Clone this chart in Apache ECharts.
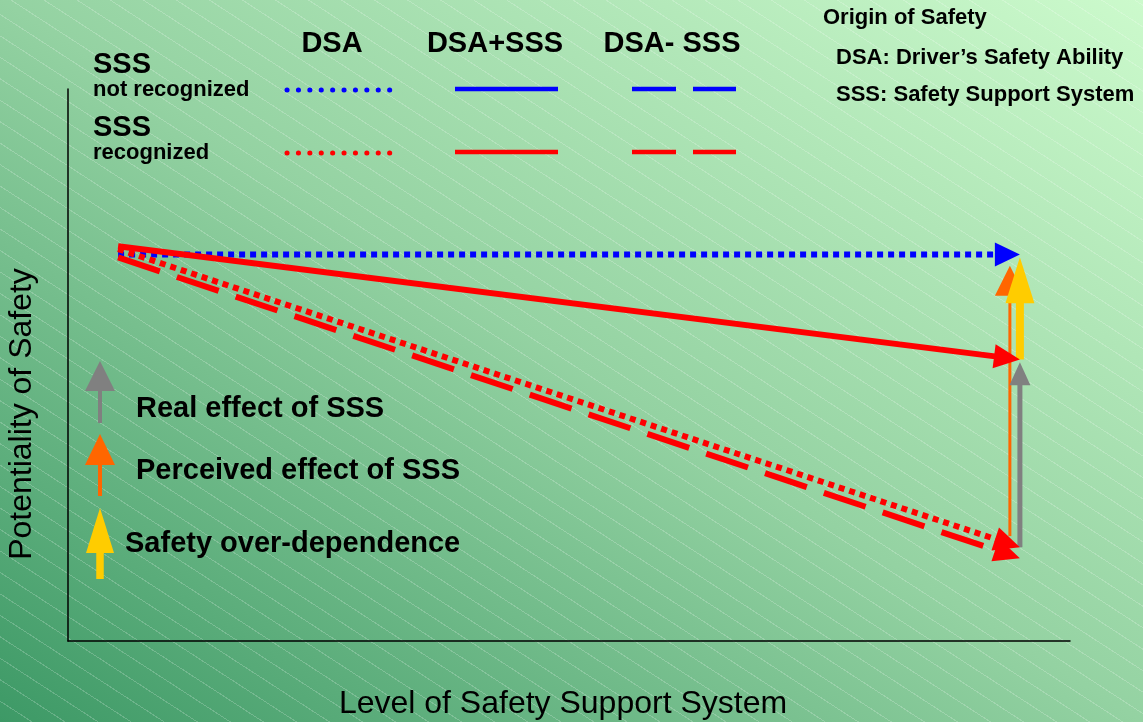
<!DOCTYPE html>
<html>
<head>
<meta charset="utf-8">
<script src="https://cdn.jsdelivr.net/npm/echarts@6/dist/echarts.min.js"></script>
<style>
  html, body { margin: 0; padding: 0; }
  #chart {
    width: 1143px; height: 722px;
    background:
      repeating-linear-gradient(33deg, rgba(255,255,255,0) 0px, rgba(255,255,255,0) 17px, rgba(255,255,255,0.2) 17px, rgba(255,255,255,0.2) 18px),
      linear-gradient(to top right, #3d9966 0%, #94d2a2 50%, #ccfacc 100%);
  }
</style>
</head>
<body>
<div id="chart"></div>
<script>
// Safety potential paths: from the driver's own ability to the level with a support system
const pathNames = ['DSA (SSS not recognized)', 'DSA+SSS (SSS recognized)', 'DSA (SSS recognized)', 'DSA- SSS (SSS recognized)'];
const pathStartX = [5, 5, 5, 5];
const pathStartY = [70, 71.5, 71, 69.5];
const pathEndX = [95, 95, 95, 95];
const pathEndY = [70, 51, 17, 15];

// Effect arrows at the high-support end
const effectNames = ['Perceived effect of SSS', 'Safety over-dependence', 'Real effect of SSS'];
const effectX = [94, 95, 95];
const effectFromY = [19, 51, 17];
const effectToY = [68, 69.5, 50.5];

// Axis ranges
const axisMin = 0;
const axisMax = 100;

// Drawing styles (per path / per effect)
const pathStyles = [
  { color: '#0000ff', width: 6, dash: [6, 5], head: 25, half: 12 },
  { color: '#ff0000', width: 6, dash: null, head: 26, half: 12 },
  { color: '#ff0000', width: 6, dash: [6, 5], head: 26, half: 12 },
  { color: '#ff0000', width: 6, dash: [44, 18], head: 26, half: 12 }
];
const effectStyles = [
  { color: '#ff6600', width: 3, dash: null, head: 30, half: 15 },
  { color: '#ffcc00', width: 8, dash: null, head: 46, half: 14.5 },
  { color: '#808080', width: 5, dash: null, head: 23, half: 10.5 }
];

const FONT = '"Liberation Sans", Arial, sans-serif';

function arrowRenderer(styles) {
  return function (params, api) {
    const st = styles[params.dataIndex];
    const a = api.coord([api.value(0), api.value(1)]);
    const b = api.coord([api.value(2), api.value(3)]);
    const dx = b[0] - a[0], dy = b[1] - a[1];
    const len = Math.sqrt(dx * dx + dy * dy) || 1;
    const ux = dx / len, uy = dy / len;
    const nx = -uy, ny = ux;
    const bx = b[0] - ux * st.head, by = b[1] - uy * st.head;
    const sx = b[0] - ux * (st.head - 3), sy = b[1] - uy * (st.head - 3);
    return {
      type: 'group',
      children: [
        {
          type: 'line',
          shape: { x1: a[0], y1: a[1], x2: sx, y2: sy },
          style: { stroke: st.color, lineWidth: st.width, lineDash: st.dash, lineCap: 'butt', fill: null }
        },
        {
          type: 'polygon',
          shape: { points: [[b[0], b[1]], [bx + nx * st.half, by + ny * st.half], [bx - nx * st.half, by - ny * st.half]] },
          style: { fill: st.color }
        }
      ]
    };
  };
}

const pathData = pathNames.map((n, i) => ({ name: n, value: [pathStartX[i], pathStartY[i], pathEndX[i], pathEndY[i]] }));
const effectData = effectNames.map((n, i) => ({ name: n, value: [effectX[i], effectFromY[i], effectX[i], effectToY[i]] }));

// Key: line samples and arrow samples
function keyLine(x1, x2, y, color, width, dash, cap) {
  return {
    type: 'line', silent: true,
    shape: { x1: x1, y1: y, x2: x2, y2: y },
    style: { stroke: color, lineWidth: width, lineDash: dash || null, lineCap: cap || 'butt' }
  };
}
function keyText(text, x, y, size, align) {
  return {
    type: 'text', silent: true, x: x, y: y,
    style: { text: text, fill: '#000', font: 'bold ' + size + 'px ' + FONT, align: align || 'left', verticalAlign: 'middle' }
  };
}
function keyArrow(x, bottom, tip, color, width, head, half) {
  const base = tip + head;
  return [
    { type: 'line', silent: true, shape: { x1: x, y1: bottom, x2: x, y2: base - 2 }, style: { stroke: color, lineWidth: width } },
    { type: 'polygon', silent: true, shape: { points: [[x, tip], [x - half, base], [x + half, base]] }, style: { fill: color } }
  ];
}

const graphics = [
  keyText('DSA', 332, 44, 29, 'center'),
  keyText('DSA+SSS', 495, 44, 29, 'center'),
  keyText('DSA- SSS', 672, 44, 29, 'center'),
  keyText('SSS', 93, 65, 29),
  keyText('not recognized', 93, 90, 22),
  keyText('SSS', 93, 128, 29),
  keyText('recognized', 93, 153, 22),
  keyText('Origin of Safety', 823, 18, 22),
  keyText('DSA: Driver\u2019s Safety Ability', 836, 58, 22),
  keyText('SSS: Safety Support System', 836, 95, 22),

  keyLine(287, 392, 90, '#0000ff', 5, [0.1, 11.3], 'round'),
  keyLine(455, 558, 89, '#0000ff', 4.5),
  keyLine(632, 676, 89, '#0000ff', 4.5),
  keyLine(693, 736, 89, '#0000ff', 4.5),
  keyLine(287, 392, 153, '#ff0000', 5, [0.1, 11.3], 'round'),
  keyLine(455, 558, 152, '#ff0000', 4.5),
  keyLine(632, 676, 152, '#ff0000', 4.5),
  keyLine(693, 736, 152, '#ff0000', 4.5),

  ...keyArrow(100, 423, 361, '#808080', 4, 30, 15),
  keyText('Real effect of SSS', 136, 409, 29),
  ...keyArrow(100, 496, 434, '#ff6600', 4, 31, 15),
  keyText('Perceived effect of SSS', 136, 471, 29),
  ...keyArrow(100, 579, 508, '#ffcc00', 7.5, 45, 14),
  keyText('Safety over-dependence', 125, 544, 29)
];

const chart = echarts.init(document.getElementById('chart'), null, { renderer: 'canvas' });
chart.setOption({
  backgroundColor: 'transparent',
  animation: false,
  grid: { left: 68, right: 73, top: 89, bottom: 81, containLabel: false, outerBoundsMode: 'none' },
  xAxis: {
    type: 'value', min: axisMin, max: axisMax,
    name: 'Level of Safety Support System',
    nameLocation: 'middle', nameGap: 47,
    nameTextStyle: { fontSize: 32, color: '#000', fontFamily: FONT, padding: [0, 12, 0, 0] },
    axisLine: { show: true, lineStyle: { color: '#000', width: 1.5 } },
    axisTick: { show: false }, axisLabel: { show: false }, splitLine: { show: false }
  },
  yAxis: {
    type: 'value', min: axisMin, max: axisMax,
    name: 'Potentiality of Safety',
    nameLocation: 'middle', nameGap: 30, nameRotate: 90,
    nameTextStyle: { fontSize: 32, color: '#000', fontFamily: FONT, padding: [0, 98, 0, 0] },
    axisLine: { show: true, lineStyle: { color: '#000', width: 1.5 } },
    axisTick: { show: false }, axisLabel: { show: false }, splitLine: { show: false }
  },
  graphic: graphics,
  series: [
    {
      type: 'custom', name: 'Effects', coordinateSystem: 'cartesian2d', clip: false, z: 2,
      encode: { x: [0, 2], y: [1, 3] },
      data: effectData,
      renderItem: arrowRenderer(effectStyles)
    },
    {
      type: 'custom', name: 'Paths', coordinateSystem: 'cartesian2d', clip: false, z: 3,
      encode: { x: [0, 2], y: [1, 3] },
      data: pathData,
      renderItem: arrowRenderer(pathStyles)
    }
  ]
});
</script>
</body>
</html>
